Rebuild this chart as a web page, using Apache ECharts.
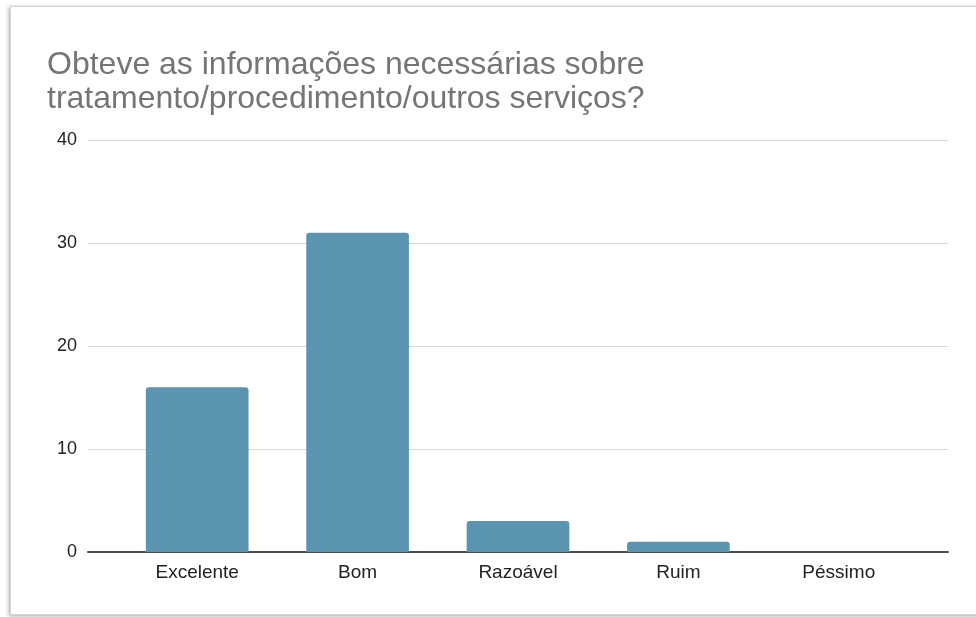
<!DOCTYPE html>
<html>
<head>
    <meta charset="utf-8">
    <style type="text/css">
        *, html, body {
            margin: 0;
            padding: 0;
        }
        html, body {
            width: 976px;
            height: 617px;
            overflow: hidden;
            background: #fff;
        }
        #frame {
            position: absolute;
            left: 10px;
            top: 6px;
            width: 1000px;
            height: 607px;
            border: 1px solid #d4d4d4;
            box-shadow: -1px 1px 4px rgba(0,0,0,0.35);
            background: #fff;
        }
        #container {
            position: absolute;
            left: 0;
            top: 0;
            width: 976px;
            height: 617px;
        }
    </style>
    <script type="text/javascript" src="https://cdn.jsdelivr.net/npm/echarts@6/dist/echarts.min.js"></script>
</head>
<body>
<div id="frame"></div>
<div id="container"></div>
<script type="text/javascript">
    // dados do gráfico
    const titleText = "Obteve as informações necessárias sobre\ntratamento/procedimento/outros serviços?";
    const categories = ["Excelente", "Bom", "Razoável", "Ruim", "Péssimo"];
    const counts = [16, 31, 3, 1, 0];
    const yTicks = [0, 10, 20, 30, 40];

    const yMin = yTicks[0];
    const yMax = yTicks[yTicks.length - 1];
    const yStep = yTicks[1] - yTicks[0];
    const font = "Liberation Sans, Arial, sans-serif";

    let myChart = echarts.init(document.getElementById("container"), null, {renderer: "canvas"});

    let option = {
        animation: false,
        backgroundColor: "transparent",
        title: {
            text: titleText,
            left: 42,
            top: 43,
            textStyle: {
                fontFamily: font,
                fontSize: 32,
                fontWeight: "normal",
                color: "#757575",
                lineHeight: 34
            }
        },
        grid: [
            // gridlines + baseline across the full width
            {left: 88, right: 28, top: 140, bottom: 65},
            // bars area (categories are narrower than the gridlines)
            {left: 117, right: 57, top: 140, bottom: 65}
        ],
        xAxis: [
            {
                type: "category",
                gridIndex: 0,
                data: categories,
                axisLine: {show: true, lineStyle: {color: "#4d4d4d", width: 2}},
                axisTick: {show: false},
                axisLabel: {show: false}
            },
            {
                type: "category",
                gridIndex: 1,
                data: categories,
                axisLine: {show: false},
                axisTick: {show: false},
                axisLabel: {
                    margin: 11,
                    fontFamily: font,
                    fontSize: 19,
                    color: "#222"
                }
            }
        ],
        yAxis: [
            {
                type: "value",
                gridIndex: 0,
                min: yMin,
                max: yMax,
                interval: yStep,
                axisLine: {show: false},
                axisTick: {show: false},
                splitLine: {lineStyle: {color: "#d9d9d9", width: 1}},
                axisLabel: {
                    margin: 11,
                    fontFamily: font,
                    fontSize: 18,
                    color: "#222"
                }
            },
            {
                type: "value",
                gridIndex: 1,
                min: yMin,
                max: yMax,
                interval: yStep,
                show: false,
                splitLine: {show: false}
            }
        ],
        series: [
            {
                type: "bar",
                xAxisIndex: 1,
                yAxisIndex: 1,
                data: counts,
                barWidth: "64%",
                itemStyle: {
                    color: "#5b94b1",
                    borderRadius: [3, 3, 0, 0]
                }
            }
        ]
    };

    myChart.setOption(option);
</script>
</body>
</html>
